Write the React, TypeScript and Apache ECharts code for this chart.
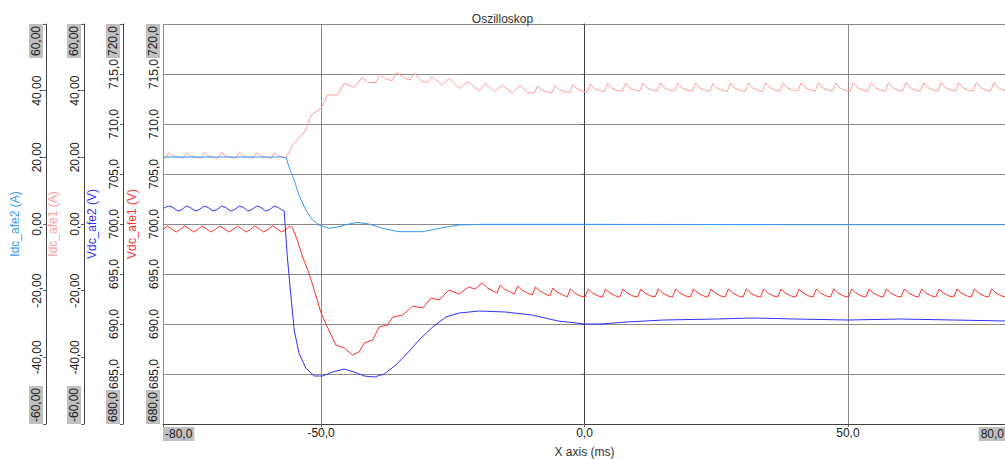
import React, { useEffect, useRef } from 'react';
import * as echarts from 'echarts';

// Oscilloscope capture: two DC-link voltages (V) and two DC currents (A) over time (ms)

const xTickValues = [-80, -50, 0, 50, 80];

// Vdc_afe1 (V) — [time ms, volts]
const vdcAfe1: [number, number][] = [
  [-80.0, 699.45], [-79.2, 699.8], [-78.4, 699.55], [-77.5, 699.2], [-76.7, 699.45], [-75.9, 699.8],
  [-75.1, 699.55], [-74.2, 699.2], [-73.4, 699.45], [-72.6, 699.8], [-71.8, 699.55], [-70.9, 699.2],
  [-70.1, 699.45], [-69.2, 699.8], [-68.4, 699.55], [-67.5, 699.2], [-66.7, 699.45], [-65.9, 699.8],
  [-65.1, 699.55], [-64.2, 699.2], [-63.4, 699.45], [-62.6, 699.8], [-61.8, 699.55], [-60.9, 699.2],
  [-60.1, 699.45], [-59.2, 699.8], [-58.4, 699.55], [-57.5, 699.2], [-56.7, 699.45], [-56.0, 699.8],
  [-55.4, 699.6],
  [-54.5, 698.4], [-53.5, 696.7], [-52.3, 695.1], [-51.3, 693.4], [-50.0, 691.1], [-48.8, 689.7],
  [-47.2, 687.9], [-45.6, 687.6], [-44.0, 686.9], [-42.8, 687.2], [-41.8, 688.1], [-40.2, 688.4],
  [-39.0, 689.7], [-37.4, 689.9], [-36.4, 690.7], [-34.5, 690.9], [-32.6, 691.8], [-30.7, 691.6],
  [-29.1, 692.6], [-27.6, 692.4], [-25.7, 693.4], [-23.8, 693.0], [-22.0, 693.7], [-20.8, 693.5],
  [-19.4, 694.1], [-18.4, 693.6], [-16.6, 693.1], [-16.0, 693.9], [-15.2, 693.5], [-14.1, 693.2],
  [-13.3, 693.0], [-12.7, 693.8], [-11.9, 693.4], [-10.8, 693.1],
  [-9.9, 692.9], [-9.3, 693.7], [-8.5, 693.3], [-7.4, 693.0],
  [-6.6, 692.8], [-6.0, 693.6], [-5.2, 693.2], [-4.1, 692.9],
  [-3.3, 692.7], [-2.7, 693.5], [-1.9, 693.1], [-0.8, 692.8],
  [0.1, 692.7], [0.7, 693.5], [1.5, 693.1], [2.6, 692.8],
  [3.4, 692.7], [4.0, 693.5], [4.8, 693.1], [5.9, 692.8],
  [6.7, 692.7], [7.3, 693.5], [8.1, 693.1], [9.2, 692.8],
  [10.1, 692.7], [10.7, 693.5], [11.5, 693.1], [12.6, 692.8],
  [13.4, 692.7], [14.0, 693.5], [14.8, 693.1], [15.9, 692.8],
  [16.7, 692.7], [17.3, 693.5], [18.1, 693.1], [19.2, 692.8],
  [20.1, 692.7], [20.7, 693.5], [21.5, 693.1], [22.6, 692.8],
  [23.4, 692.7], [24.0, 693.5], [24.8, 693.1], [25.9, 692.8],
  [26.7, 692.7], [27.3, 693.5], [28.1, 693.1], [29.2, 692.8],
  [30.1, 692.7], [30.7, 693.5], [31.5, 693.1], [32.6, 692.8],
  [33.4, 692.7], [34.0, 693.5], [34.8, 693.1], [35.9, 692.8],
  [36.7, 692.7], [37.3, 693.5], [38.1, 693.1], [39.2, 692.8],
  [40.1, 692.7], [40.7, 693.5], [41.5, 693.1], [42.6, 692.8],
  [43.4, 692.7], [44.0, 693.5], [44.8, 693.1], [45.9, 692.8],
  [46.7, 692.7], [47.3, 693.5], [48.1, 693.1], [49.2, 692.8],
  [50.1, 692.7], [50.7, 693.5], [51.5, 693.1], [52.6, 692.8],
  [53.4, 692.7], [54.0, 693.5], [54.8, 693.1], [55.9, 692.8],
  [56.7, 692.7], [57.3, 693.5], [58.1, 693.1], [59.2, 692.8],
  [60.1, 692.7], [60.7, 693.5], [61.5, 693.1], [62.6, 692.8],
  [63.4, 692.7], [64.0, 693.5], [64.8, 693.1], [65.9, 692.8],
  [66.7, 692.7], [67.3, 693.5], [68.1, 693.1], [69.2, 692.8],
  [70.1, 692.7], [70.7, 693.5], [71.5, 693.1], [72.6, 692.8],
  [73.4, 692.7], [74.0, 693.5], [74.8, 693.1], [75.9, 692.8],
  [76.7, 692.7], [77.3, 693.5], [78.1, 693.1], [79.2, 692.8],
  [80.0, 692.7],
];

// Vdc_afe2 (V)
const vdcAfe2: [number, number][] = [
  [-80.0, 701.5], [-79.7, 701.65], [-78.9, 701.8], [-78.1, 701.65], [-77.2, 701.3], [-76.4, 701.45],
  [-75.6, 701.8], [-74.8, 701.65], [-73.9, 701.3], [-73.1, 701.45], [-72.2, 701.8], [-71.4, 701.65],
  [-70.5, 701.3], [-69.7, 701.45], [-68.9, 701.8], [-68.1, 701.65], [-67.2, 701.3], [-66.4, 701.45],
  [-65.5, 701.8], [-64.7, 701.65], [-63.9, 701.3], [-63.1, 701.45], [-62.2, 701.8], [-61.4, 701.65],
  [-60.5, 701.3], [-59.7, 701.45], [-58.9, 701.8], [-58.1, 701.65], [-57.4, 701.4], [-57.0, 701.3],
  [-56.4, 696.7], [-55.7, 692.7], [-55.1, 689.4], [-54.2, 687.1], [-52.9, 685.6], [-51.3, 684.8],
  [-49.7, 684.8], [-47.8, 685.2], [-45.6, 685.5], [-43.7, 685.2], [-41.8, 684.8], [-39.9, 684.7],
  [-38.0, 685.0], [-35.8, 685.9], [-33.6, 687.1], [-31.4, 688.4], [-28.8, 689.7], [-26.3, 690.7],
  [-23.8, 691.1], [-20.0, 691.3], [-15.0, 691.2], [-10.0, 690.9], [-5.0, 690.3], [0.0, 690.0],
  [3.0, 690.0], [8.0, 690.2], [15.0, 690.4], [25.0, 690.5], [32.0, 690.6], [40.0, 690.5],
  [50.0, 690.4], [60.0, 690.5], [70.0, 690.4], [80.0, 690.3],
];

// Idc_afe1 (A)
const idcAfe1: [number, number][] = [
  [-80.0, 20.0], [-79.5, 19.7], [-78.9, 21.4], [-78.1, 20.5], [-77.0, 20.0], [-76.2, 19.7],
  [-75.6, 21.4], [-74.8, 20.5], [-73.7, 20.0], [-72.8, 19.7], [-72.2, 21.4], [-71.4, 20.5],
  [-70.3, 20.0], [-69.6, 19.7], [-69.0, 21.4], [-68.2, 20.5], [-67.1, 20.0], [-66.2, 19.7],
  [-65.6, 21.4], [-64.8, 20.5], [-63.7, 20.0], [-62.9, 19.7], [-62.3, 21.4], [-61.5, 20.5],
  [-60.4, 20.0], [-59.5, 19.7], [-58.9, 21.4], [-58.1, 20.5], [-57.0, 20.0], [-56.7, 19.8],
  [-55.4, 23.7], [-54.2, 25.7], [-52.9, 28.2], [-51.9, 32.7], [-50.4, 34.2], [-49.8, 35.2],
  [-48.8, 38.7], [-46.9, 38.7], [-45.6, 42.2], [-43.7, 41.0], [-42.2, 44.0], [-41.2, 42.5],
  [-39.6, 42.4], [-38.8, 45.0], [-37.7, 43.5], [-36.5, 43.0], [-35.7, 45.4], [-34.0, 43.7],
  [-33.1, 43.2], [-32.3, 45.2], [-30.8, 42.7], [-29.8, 42.4], [-28.9, 44.2], [-27.0, 41.7],
  [-25.7, 43.7], [-23.8, 40.7], [-22.2, 42.7], [-20.0, 40.0], [-18.8, 42.2], [-17.1, 39.7],
  [-15.6, 41.7], [-13.7, 39.2], [-12.2, 41.7], [-10.8, 39.4],
  [-9.5, 39.3], [-8.9, 41.4], [-8.1, 40.2], [-7.0, 39.5],
  [-6.2, 39.3], [-5.6, 41.6], [-4.8, 40.3], [-3.7, 39.6],
  [-2.8, 39.5], [-2.2, 41.8], [-1.4, 40.5], [-0.3, 39.8],
  [0.5, 39.6], [1.1, 42.0], [1.9, 40.6], [3.0, 39.9],
  [3.8, 39.8], [4.4, 42.2], [5.2, 40.7], [6.3, 40.0],
  [7.2, 39.9], [7.8, 42.3], [8.6, 40.8], [9.7, 40.1],
  [10.5, 39.9], [11.1, 42.3], [11.9, 40.8], [13.0, 40.1],
  [13.8, 39.9], [14.4, 42.3], [15.2, 40.8], [16.3, 40.1],
  [17.1, 39.9], [17.7, 42.3], [18.5, 40.8], [19.6, 40.1],
  [20.5, 39.9], [21.1, 42.3], [21.9, 40.8], [23.0, 40.1],
  [23.8, 39.8], [24.4, 42.2], [25.2, 40.7], [26.3, 40.0],
  [27.1, 39.8], [27.7, 42.3], [28.5, 40.8], [29.6, 40.0],
  [30.5, 39.8], [31.1, 42.3], [31.9, 40.8], [33.0, 40.0],
  [33.8, 39.8], [34.4, 42.4], [35.2, 40.9], [36.3, 40.1],
  [37.1, 39.9], [37.7, 42.4], [38.5, 40.9], [39.6, 40.1],
  [40.5, 39.9], [41.1, 42.4], [41.9, 40.9], [43.0, 40.1],
  [43.8, 39.9], [44.4, 42.4], [45.2, 40.9], [46.3, 40.1],
  [47.1, 39.9], [47.7, 42.3], [48.5, 40.8], [49.6, 40.0],
  [50.4, 39.7], [51.0, 42.4], [51.8, 40.9], [52.9, 40.1],
  [53.8, 39.9], [54.4, 42.4], [55.2, 40.9], [56.3, 40.1],
  [57.1, 39.9], [57.7, 42.4], [58.5, 40.9], [59.6, 40.1],
  [60.4, 39.9], [61.0, 42.4], [61.8, 40.9], [62.9, 40.1],
  [63.8, 39.9], [64.4, 42.4], [65.2, 40.9], [66.3, 40.1],
  [67.1, 39.9], [67.7, 42.4], [68.5, 40.9], [69.6, 40.1],
  [70.4, 39.9], [71.0, 42.4], [71.8, 40.9], [72.9, 40.1],
  [73.8, 39.9], [74.4, 42.4], [75.2, 40.9], [76.3, 40.1],
  [77.1, 39.9], [77.7, 42.4], [78.5, 40.9], [79.6, 40.1],
  [80.0, 40.0],
];

// Idc_afe2 (A)
const idcAfe2: [number, number][] = [
  [-80.0, 20.1], [-70.0, 20.1], [-60.0, 20.1], [-57.4, 20.1], [-56.6, 19.8], [-56.1, 17.2],
  [-55.1, 13.2], [-54.2, 8.7], [-52.9, 4.2], [-51.6, 1.2], [-50.4, -0.3], [-48.5, -1.3],
  [-46.6, -0.8], [-44.7, 0.0], [-43.1, 0.5], [-40.9, 0.0], [-38.3, -1.3], [-35.2, -2.3],
  [-30.7, -2.3], [-27.6, -1.3], [-23.8, -0.3], [-19.3, -0.1], [0.0, -0.1], [40.0, -0.2],
  [80.0, -0.2],
];

const FONT = '"Liberation Sans", Arial, Helvetica, sans-serif';
const TEXT = '#222222';
const PAD_X = 2;

const fmtV = (v: number) => v.toFixed(1).replace('.', ',');
const fmtA = (v: number) => v.toFixed(2).replace('.', ',');

let measureCtx: CanvasRenderingContext2D | null = null;
function measure(text: string): number {
  if (!measureCtx) measureCtx = document.createElement('canvas').getContext('2d');
  if (!measureCtx) return text.length * 6.7;
  measureCtx.font = `12px ${FONT}`;
  return measureCtx.measureText(text).width;
}

// Min/max labels sit inside the axis range on a grey plate; a blank spacer
// of the same length pushes the centred label off its tick.
function edgeLabels(min: number, max: number, fmt: (v: number) => string) {
  const wMin = measure(fmt(min)) + 2 * PAD_X;
  const wMax = measure(fmt(max)) + 2 * PAD_X;
  return {
    showMinLabel: true,
    showMaxLabel: true,
    hideOverlap: false,
    formatter: (v: number) => {
      const t = fmt(v);
      if (Math.abs(v - max) < 1e-9) return `{hl|${t}}{gapMax| }`;
      if (Math.abs(v - min) < 1e-9) return `{gapMin| }{hl|${t}}`;
      return t;
    },
    rich: {
      hl: { backgroundColor: '#c0c0c0', padding: [1, PAD_X], color: TEXT, fontSize: 12, fontFamily: FONT },
      gapMax: { width: wMax, fontSize: 12, fontFamily: FONT },
      gapMin: { width: wMin, fontSize: 12, fontFamily: FONT },
    },
  };
}

function yAxis(
  name: string,
  color: string,
  min: number,
  max: number,
  interval: number,
  offset: number,
  fmt: (v: number) => string,
  grid: boolean,
) {
  return {
    type: 'value',
    position: 'left',
    offset,
    min,
    max,
    interval,
    name,
    nameLocation: 'middle',
    nameGap: 25,
    nameTextStyle: { color, fontSize: 12, fontFamily: FONT },
    axisLine: { show: true, lineStyle: { color: '#404040', width: 1 } },
    axisTick: { show: true, length: 3, lineStyle: { color: '#606060' } },
    axisLabel: {
      rotate: 90,
      margin: 3,
      color: TEXT,
      fontSize: 12,
      fontFamily: FONT,
      ...edgeLabels(min, max, fmt),
    },
    splitLine: { show: grid, lineStyle: { color: '#8a8a8a', width: 1 } },
  };
}

export default function App() {
  const ref = useRef<HTMLDivElement>(null);

  useEffect(() => {
    if (!ref.current) return;
    const chart = echarts.init(ref.current, null, { renderer: 'svg' });

    chart.setOption({
      animation: false,
      backgroundColor: '#ffffff',
      title: {
        text: 'Oszilloskop',
        left: 'center',
        top: 8,
        textStyle: { color: '#333333', fontSize: 12, fontWeight: 'normal', fontFamily: FONT },
      },
      grid: { left: 163, top: 24, width: 843, height: 400, outerBoundsMode: 'none' },
      xAxis: {
        type: 'value',
        min: -80,
        max: 80,
        name: 'X axis (ms)',
        nameLocation: 'middle',
        nameGap: 19,
        nameTextStyle: { color: '#333333', fontSize: 12, fontFamily: FONT },
        axisLine: { show: true, onZero: false, lineStyle: { color: '#404040', width: 1 } },
        axisTick: { show: true, length: 3, customValues: xTickValues, lineStyle: { color: '#606060' } },
        axisLabel: {
          customValues: xTickValues,
          margin: 3,
          color: TEXT,
          fontSize: 12,
          fontFamily: FONT,
          ...edgeLabels(-80, 80, fmtV),
        },
        splitLine: { show: true, lineStyle: { color: '#8a8a8a', width: 1 } },
      },
      yAxis: [
        yAxis('Vdc_afe1 (V)', '#ff3030', 680, 720, 5, 0, fmtV, true),
        yAxis('Vdc_afe2 (V)', '#3030ff', 680, 720, 5, 40, fmtV, false),
        yAxis('Idc_afe1 (A)', '#ff9c9c', -60, 60, 20, 79, fmtA, false),
        yAxis('Idc_afe2 (A)', '#3399ff', -60, 60, 20, 117, fmtA, false),
      ],
      series: [
        {
          name: 'Idc_afe1',
          type: 'line',
          yAxisIndex: 2,
          data: idcAfe1,
          showSymbol: false,
          lineStyle: { color: '#ff9c9c', width: 1 },
          itemStyle: { color: '#ff9c9c' },
        },
        {
          name: 'Vdc_afe1',
          type: 'line',
          yAxisIndex: 0,
          data: vdcAfe1,
          showSymbol: false,
          lineStyle: { color: '#ff3030', width: 1 },
          itemStyle: { color: '#ff3030' },
        },
        {
          name: 'Vdc_afe2',
          type: 'line',
          yAxisIndex: 1,
          data: vdcAfe2,
          showSymbol: false,
          lineStyle: { color: '#3030ff', width: 1 },
          itemStyle: { color: '#3030ff' },
        },
        {
          name: 'Idc_afe2',
          type: 'line',
          yAxisIndex: 3,
          data: idcAfe2,
          showSymbol: false,
          lineStyle: { color: '#3399ff', width: 1 },
          itemStyle: { color: '#3399ff' },
        },
      ],
    });

    return () => chart.dispose();
  }, []);

  return (
    <div
      ref={ref}
      style={{ position: 'fixed', left: 0, top: 0, width: 1005, height: 459, background: '#ffffff' }}
    />
  );
}
